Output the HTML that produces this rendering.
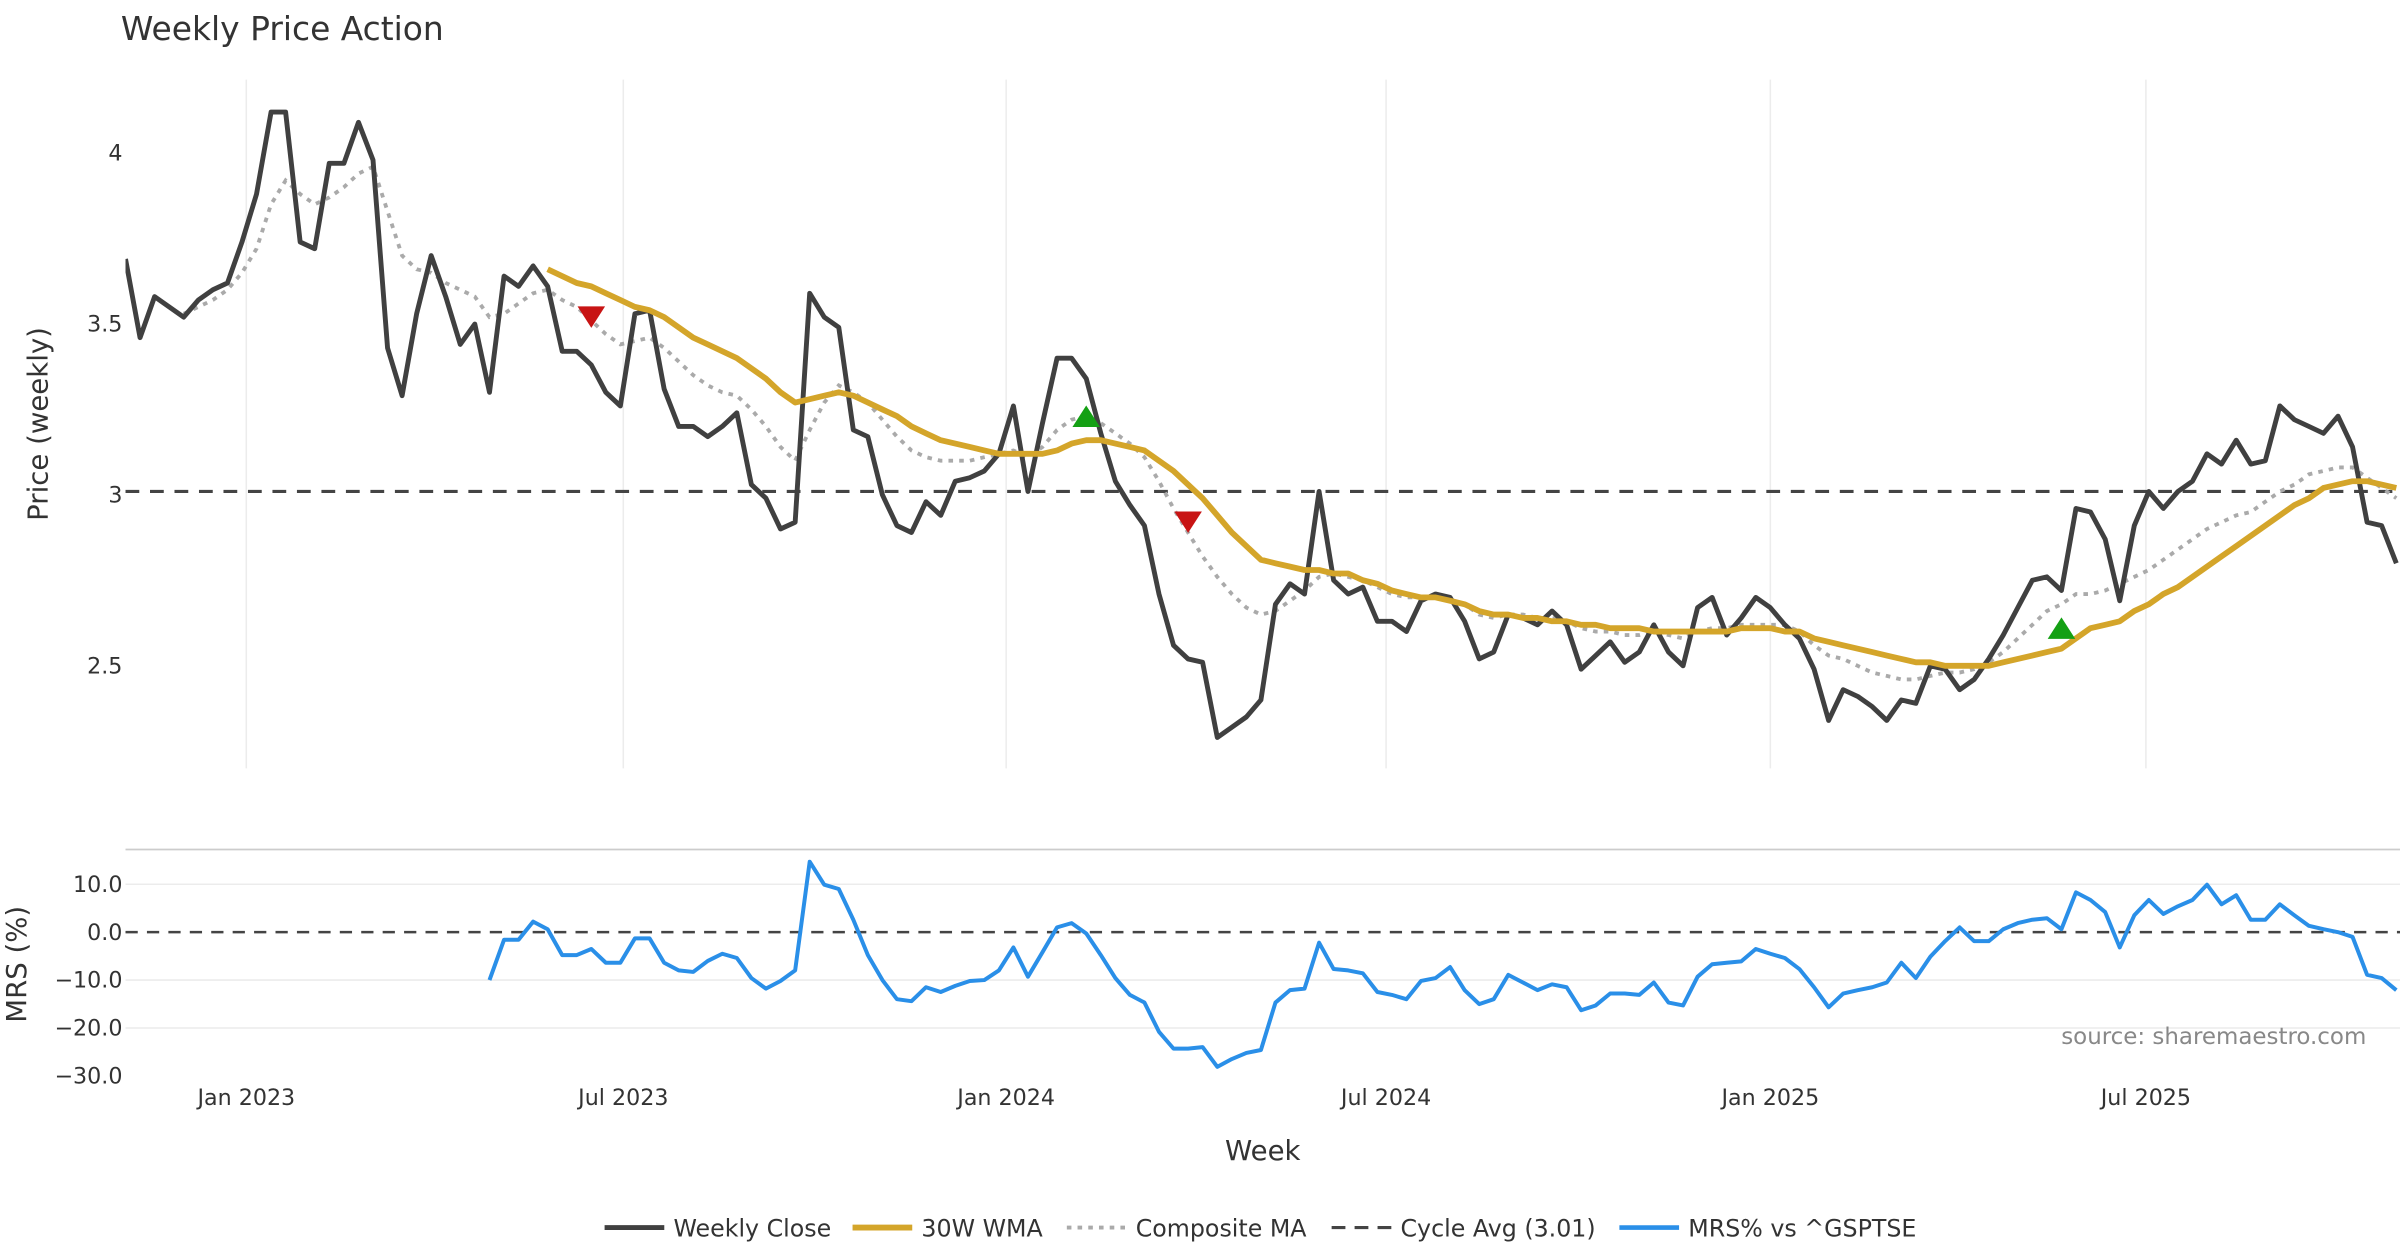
<!DOCTYPE html>
<html><head><meta charset="utf-8"><style>
html,body{margin:0;padding:0;background:#fff}
svg{display:block}
text{font-family:"DejaVu Sans","Liberation Sans",sans-serif}
</style></head><body>
<svg id="chart" width="2400" height="1260" viewBox="0 0 1568 823.2" xmlns="http://www.w3.org/2000/svg">
<defs><clipPath id="clipP"><rect x="82" y="40" width="1486" height="470"/></clipPath>
<clipPath id="clipM"><rect x="82" y="540" width="1486" height="180"/></clipPath></defs>
<text x="79" y="26" font-size="21.5" fill="#333">Weekly Price Action</text>
<g id="grid"></g>
<g id="price" clip-path="url(#clipP)"></g>
<g id="mrs" clip-path="url(#clipM)"></g>
<g id="axes"></g>
<text transform="translate(31,277) rotate(-90)" text-anchor="middle" font-size="18" fill="#333">Price (weekly)</text>
<text transform="translate(17,630) rotate(-90)" text-anchor="middle" font-size="18" fill="#333">MRS (%)</text>
<text x="825" y="758" text-anchor="middle" font-size="18" fill="#333">Week</text>
<text x="1546" y="682" text-anchor="end" font-size="15" fill="#888">source: sharemaestro.com</text>
<g id="legend"></g>
</svg>
<script>
const closeVals=[3.69,3.46,3.58,3.55,3.52,3.57,3.60,3.62,3.74,3.88,
4.12,4.12,3.74,3.72,3.97,3.97,4.09,3.98,3.43,3.29,
3.53,3.70,3.58,3.44,3.50,3.30,3.64,3.61,3.67,3.61,
3.42,3.42,3.38,3.30,3.26,3.53,3.54,3.31,3.20,3.20,
3.17,3.20,3.24,3.03,2.99,2.90,2.92,3.59,3.52,3.49,
3.19,3.17,3.00,2.91,2.89,2.98,2.94,3.04,3.05,3.07,
3.12,3.26,3.01,3.21,3.40,3.40,3.34,3.18,3.04,2.97,
2.91,2.71,2.56,2.52,2.51,2.29,2.32,2.35,2.40,2.68,
2.74,2.71,3.01,2.75,2.71,2.73,2.63,2.63,2.60,2.69,
2.71,2.70,2.63,2.52,2.54,2.65,2.64,2.62,2.66,2.62,
2.49,2.53,2.57,2.51,2.54,2.62,2.54,2.50,2.67,2.70,
2.59,2.64,2.70,2.67,2.62,2.58,2.49,2.34,2.43,2.41,
2.38,2.34,2.40,2.39,2.50,2.49,2.43,2.46,2.52,2.59,
2.67,2.75,2.76,2.72,2.96,2.95,2.87,2.69,2.91,3.01,
2.96,3.01,3.04,3.12,3.09,3.16,3.09,3.10,3.26,3.22,
3.20,3.18,3.23,3.14,2.92,2.91,2.80];
const wmaStart=29;
const wmaVals=[3.66,3.64,3.62,3.61,3.59,3.57,3.55,3.54,3.52,3.49,3.46,3.44,3.42,3.40,3.37,3.34,3.30,3.27,3.28,3.29,3.30,3.29,3.27,3.25,3.23,3.20,3.18,3.16,3.15,3.14,3.13,3.12,3.12,3.12,3.12,3.13,3.15,3.16,3.16,3.15,3.14,3.13,3.10,3.07,3.03,2.99,2.94,2.89,2.85,2.81,2.80,2.79,2.78,2.78,2.77,2.77,2.75,2.74,2.72,2.71,2.70,2.70,2.69,2.68,2.66,2.65,2.65,2.64,2.64,2.63,2.63,2.62,2.62,2.61,2.61,2.61,2.60,2.60,2.60,2.60,2.60,2.60,2.61,2.61,2.61,2.60,2.60,2.58,2.57,2.56,2.55,2.54,2.53,2.52,2.51,2.51,2.50,2.50,2.50,2.50,2.51,2.52,2.53,2.54,2.55,2.58,2.61,2.62,2.63,2.66,2.68,2.71,2.73,2.76,2.79,2.82,2.85,2.88,2.91,2.94,2.97,2.99,3.02,3.03,3.04,3.04,3.03,3.02];
const compStart=4;
const compVals=[3.53,3.55,3.57,3.60,3.65,3.72,3.85,3.92,3.88,3.85,3.87,3.90,3.94,3.96,3.83,3.70,3.66,3.65,3.62,3.60,3.58,3.52,3.53,3.56,3.59,3.60,3.57,3.55,3.51,3.47,3.44,3.45,3.46,3.43,3.39,3.35,3.32,3.30,3.29,3.25,3.20,3.14,3.10,3.19,3.27,3.32,3.30,3.27,3.22,3.17,3.13,3.11,3.10,3.10,3.10,3.11,3.12,3.13,3.11,3.14,3.19,3.22,3.23,3.21,3.18,3.15,3.11,3.04,2.96,2.89,2.82,2.76,2.71,2.67,2.65,2.66,2.69,2.72,2.76,2.77,2.76,2.75,2.73,2.71,2.70,2.70,2.70,2.69,2.68,2.65,2.64,2.65,2.65,2.64,2.64,2.63,2.61,2.60,2.60,2.59,2.59,2.60,2.59,2.58,2.60,2.61,2.61,2.62,2.62,2.62,2.62,2.60,2.56,2.53,2.52,2.50,2.48,2.47,2.46,2.46,2.47,2.48,2.48,2.49,2.51,2.54,2.58,2.62,2.66,2.68,2.71,2.71,2.72,2.74,2.76,2.78,2.81,2.84,2.87,2.90,2.92,2.94,2.95,2.98,3.01,3.03,3.06,3.07,3.08,3.08,3.05,3.02,2.99];
const mrsStart=25;
const mrsVals=[-10,-1.6,-1.6,2.2,0.6,-4.8,-4.8,-3.5,-6.4,-6.4,-1.3,-1.3,-6.4,-8,-8.3,-6,-4.5,-5.4,-9.6,-11.8,-10.2,-8,14.7,9.9,9,2.6,-4.8,-10,-14,-14.4,-11.5,-12.5,-11.2,-10.2,-10,-8,-3.2,-9.3,-4.2,1,1.9,-0.3,-4.8,-9.6,-13.1,-14.7,-20.8,-24.3,-24.3,-24,-28.1,-26.5,-25.2,-24.6,-14.7,-12.1,-11.8,-2.2,-7.7,-8,-8.6,-12.5,-13.1,-14,-10.2,-9.6,-7.3,-12.1,-15,-14,-8.9,-10.5,-12.1,-10.9,-11.5,-16.3,-15.3,-12.8,-12.8,-13.1,-10.5,-14.7,-15.3,-9.3,-6.7,-6.4,-6.1,-3.5,-4.5,-5.4,-7.7,-11.5,-15.7,-12.8,-12.1,-11.5,-10.5,-6.4,-9.6,-5.1,-1.9,1,-1.9,-1.9,0.6,1.9,2.6,2.9,0.6,8.3,6.7,4.2,-3.2,3.5,6.7,3.8,5.4,6.7,9.9,5.8,7.7,2.6,2.6,5.8,3.5,1.3,0.6,0,-1,-8.9,-9.6,-12.1];
const cycleAvg=3.01;
const sellIdx=[32,73];const sellVals=[3.52,2.92];
const buyIdx=[66,133];const buyVals=[3.23,2.61];
const priceTicks=[4,3.5,3,2.5];const priceTickLabels=["4","3.5","3","2.5"];
const mrsTicks=[10,0,-10,-20,-30];const mrsTickLabels=["10.0","0.0","−10.0","−20.0","−30.0"];
const dateTickWeeks=[8.3,34.2,60.5,86.6,113,138.8];
const dateTickLabels=["Jan 2023","Jul 2023","Jan 2024","Jul 2024","Jan 2025","Jul 2025"];

const NS="http://www.w3.org/2000/svg";
const xS=i=>82+i*9.51;
const yP=v=>100+(4-v)*223.3;
const yM=v=>609-v*3.13;
function mk(tag,attrs,parent){const e=document.createElementNS(NS,tag);for(const k in attrs)e.setAttribute(k,attrs[k]);parent.appendChild(e);return e;}
const gridG=document.getElementById('grid'),priceG=document.getElementById('price'),mrsG=document.getElementById('mrs'),axesG=document.getElementById('axes'),legendG=document.getElementById('legend');
dateTickWeeks.forEach((w,k)=>{
 const l=mk('line',{x1:xS(w),x2:xS(w),y1:52,y2:502,stroke:'#ececec','stroke-width':1},gridG);
 
 
 const t=mk('text',{x:xS(w),y:722,'text-anchor':'middle','font-size':14.5,fill:'#333'},axesG);t.textContent=dateTickLabels[k];
 
 
});
priceTicks.forEach((v,k)=>{
 const t=mk('text',{x:80,y:yP(v)+5,'text-anchor':'end','font-size':14.5,fill:'#333'},axesG);t.textContent=priceTickLabels[k];
 
 
});
const panelTop=mk('line',{x1:82,x2:1568,y1:555,y2:555,stroke:'#ccc','stroke-width':1.2},gridG);


mrsTicks.forEach((v,k)=>{
 if(v!==0&&v!==-30){const g=mk('line',{x1:82,x2:1568,y1:yM(v),y2:yM(v),stroke:'#ececec','stroke-width':1},gridG);
 
 }
 const t=mk('text',{x:80,y:yM(v)+5,'text-anchor':'end','font-size':14.5,fill:'#333'},axesG);t.textContent=mrsTickLabels[k];
 
 
});
function pathD(vals,start,ys){return vals.map((v,i)=>(i?'L':'M')+xS(start+i).toFixed(1)+','+ys(v).toFixed(1)).join(' ');}
const ca=mk('line',{x1:82,x2:1568,y1:yP(cycleAvg),y2:yP(cycleAvg),stroke:'#444','stroke-width':2,'stroke-dasharray':'9,7'},priceG);


const cp=mk('path',{d:pathD(compVals,compStart,yP),fill:'none',stroke:'#aaa','stroke-width':2.5,'stroke-dasharray':'3,4'},priceG);


const cl=mk('path',{d:pathD(closeVals,0,yP),fill:'none',stroke:'#404040','stroke-width':3.2,'stroke-linejoin':'round'},priceG);


const wm=mk('path',{d:pathD(wmaVals,wmaStart,yP),fill:'none',stroke:'#d4a52a','stroke-width':3.8,'stroke-linejoin':'round'},priceG);


sellIdx.forEach((w,k)=>{const x=xS(w),y=yP(sellVals[k]);
 const m=mk('polygon',{points:`${x-9},${y-7} ${x+9},${y-7} ${x},${y+7}`,fill:'#c81414'},priceG);
 
 });
buyIdx.forEach((w,k)=>{const x=xS(w),y=yP(buyVals[k]);
 const m=mk('polygon',{points:`${x-9},${y+7} ${x+9},${y+7} ${x},${y-7}`,fill:'#14a014'},priceG);
 
 });
const z=mk('line',{x1:82,x2:1568,y1:yM(0),y2:yM(0),stroke:'#444','stroke-width':1.6,'stroke-dasharray':'8,6'},mrsG);


const ml=mk('path',{d:pathD(mrsVals,mrsStart,yM),fill:'none',stroke:'#2a8fe8','stroke-width':2.6,'stroke-linejoin':'round'},mrsG);


const legItems=[["Weekly Close","#404040",3.2,"",395],["30W WMA","#d4a52a",3.8,"",557],["Composite MA","#aaa",2.5,"3,4",697],["Cycle Avg (3.01)","#444",2,"9,6",870],["MRS% vs ^GSPTSE","#2a8fe8",3,"",1058]];
legItems.forEach(it=>{
 const g=mk('g',{},legendG);
 
 
 mk('line',{x1:it[4],x2:it[4]+39,y1:802,y2:802,stroke:it[1],'stroke-width':it[2],'stroke-dasharray':it[3]},g);
 const t=mk('text',{x:it[4]+45,y:808,'font-size':15.5,fill:'#333'},g);t.textContent=it[0];
});
</script>
</body></html>
